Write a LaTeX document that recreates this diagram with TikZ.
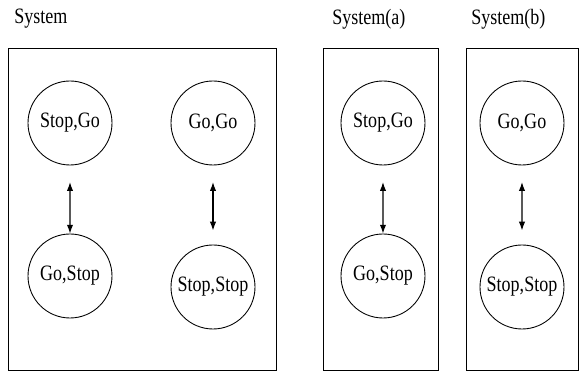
\documentclass[tikz,border=0pt]{standalone}
\usepackage{fontspec}
\setmainfont[FakeStretch=0.82]{Liberation Serif}
\usetikzlibrary{arrows.meta}

\begin{document}
\begin{tikzpicture}[scale=0.2, font=\fontsize{12.5}{15}\selectfont]
\tikzstyle{every node}+=[inner sep=0pt]
\tikzstyle{state}=[draw=black, line width=0.5pt, circle, minimum size=1.68cm]
\tikzstyle{link}=[{Latex[length=5pt,width=3.6pt]}-{Latex[length=5pt,width=3.6pt]}, line width=0.6pt, shorten <=9.5pt]

\useasboundingbox (0,0) rectangle (57.9,-37.2);

% whole system
\draw (1.4,-1.9) node [right] (titleall) {System};
\draw [black, line width=0.5pt] (0.8,-4.8) rectangle (27.6,-37.0);
\node [state] (sg) at (7.0,-12.3) {Stop,Go};
\node [state] (gs) at (7.0,-27.6) {Go,Stop};
\node [state] (gg) at (21.3,-12.3) {Go,Go};
\node [state] (ss) at (21.3,-28.7) {Stop,Stop};
\draw [link] (sg) -- (gs);
\draw [link, shorten >=8pt] (gg) -- (ss);

% part a
\draw (33.2,-1.9) node [right] (titlea) {System(a)};
\draw [black, line width=0.5pt] (32.3,-4.8) rectangle (43.8,-37.0);
\node [state] (asg) at (38.3,-12.3) {Stop,Go};
\node [state] (ags) at (38.3,-27.6) {Go,Stop};
\draw [link] (asg) -- (ags);

% part b
\draw (47.1,-1.9) node [right] (titleb) {System(b)};
\draw [black, line width=0.5pt] (46.6,-4.8) rectangle (57.8,-37.0);
\node [state] (bgg) at (52.2,-12.3) {Go,Go};
\node [state] (bss) at (52.2,-28.7) {Stop,Stop};
\draw [link, shorten >=8pt] (bgg) -- (bss);
\end{tikzpicture}
\end{document}
